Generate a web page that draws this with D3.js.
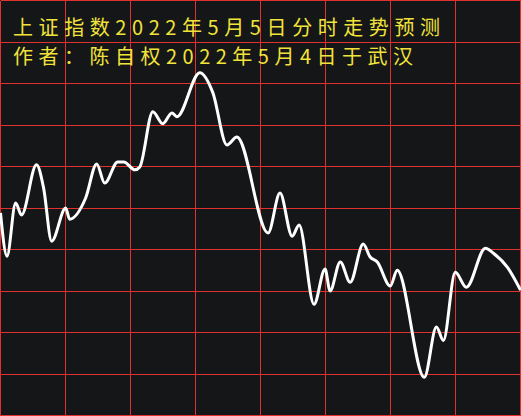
<!DOCTYPE html>
<html>
<head>
<meta charset="utf-8">
<script src="https://cdn.jsdelivr.net/npm/d3@7"></script>
<style>
  html, body { margin: 0; padding: 0; background: #151618; }
  svg { display: block; }
</style>
</head>
<body>
<div id="chart"></div>
<script>
// title lines
var titles = ["上证指数2022年5月5日分时走势预测", "作者：陈自权2022年5月4日于武汉"];

// trading minutes since open (0..240) and predicted index value
var minutes = [0, 3, 7, 9.7, 16.6, 19.9, 23.6, 30.1, 31.9, 39.3, 44.4, 48.1, 54.1, 56.9, 62.0, 64.3,
  70.3, 74.9, 79.1, 81.4, 92.0, 98.0, 104.5, 109.1, 123.5, 129.0, 134.6, 137.8, 144.7, 149.8,
  152.1, 156.8, 161.4, 167.4, 170.6, 173.9, 179.9, 183.1, 195.6, 201.2, 204.4, 209.9, 215.0,
  223.8, 227.5, 234.0, 240];
var values = [3048.8, 3038.4, 3051.2, 3048.3, 3060.4, 3054.8, 3042.0, 3050.0, 3047.3, 3052.4,
  3060.6, 3056.0, 3061.1, 3061.1, 3059.2, 3059.9, 3073.2, 3070.3, 3072.9, 3072.0, 3082.6,
  3077.8, 3065.2, 3067.1, 3044.0, 3053.6, 3043.2, 3045.9, 3026.8, 3035.3, 3030.0, 3037.0,
  3032.1, 3041.3, 3038.2, 3037.0, 3031.2, 3035.0, 3009.2, 3021.3, 3018.1, 3034.5, 3030.9,
  3040.3, 3039.1, 3035.7, 3030.2];

// grid ticks
var xTicks = [0, 30, 60, 90, 120, 150, 180, 210, 240];
var yTicks = [3000, 3010, 3020, 3030, 3040, 3050, 3060, 3070, 3080, 3090, 3100];

var width = 521, height = 416;
var grid_color = "#e0322e";

var svg = d3.select("#chart").append("svg")
  .attr("width", width)
  .attr("height", height);

svg.append("rect")
  .attr("width", width)
  .attr("height", height)
  .style("fill", "#151618");

var x = d3.scaleLinear().domain([0, 240]).range([0.5, 520.5]);
var y = d3.scaleLinear().domain([3000, 3100]).range([415.5, 0.5]);

// horizontal grid
svg.append("g").selectAll("line")
  .data(yTicks)
  .enter()
  .append("line")
  .attr("x1", x(0)).attr("x2", x(240))
  .attr("y1", d => y(d)).attr("y2", d => y(d))
  .style("stroke", grid_color)
  .style("stroke-width", 1)
  .style("shape-rendering", "crispEdges");

// vertical grid
svg.append("g").selectAll("line")
  .data(xTicks)
  .enter()
  .append("line")
  .attr("x1", d => x(d)).attr("x2", d => x(d))
  .attr("y1", y(3100)).attr("y2", y(3000))
  .style("stroke", grid_color)
  .style("stroke-width", 1)
  .style("shape-rendering", "crispEdges");

var data = minutes.map((m, i) => ({m: m, v: values[i]}));

var line = d3.line()
  .x(d => x(d.m))
  .y(d => y(d.v))
  .curve(d3.curveMonotoneX);

svg.append("path")
  .datum(data)
  .attr("d", line)
  .style("fill", "none")
  .style("stroke", "#ffffff")
  .style("stroke-width", 3)
  .style("stroke-linejoin", "round");

// title text
var textLens = [427, 400];
svg.selectAll("text.title")
  .data(titles)
  .enter()
  .append("text")
  .attr("class", "title")
  .attr("x", 13)
  .attr("y", (d, i) => 35 + i * 29)
  .attr("textLength", (d, i) => textLens[i])
  .attr("lengthAdjust", "spacing")
  .style("font-family", "'Noto Sans CJK SC', 'DejaVu Sans Mono', sans-serif")
  .style("font-size", "20px")
  .style("fill", "#f2e33a")
  .text(d => d);
</script>
</body>
</html>
